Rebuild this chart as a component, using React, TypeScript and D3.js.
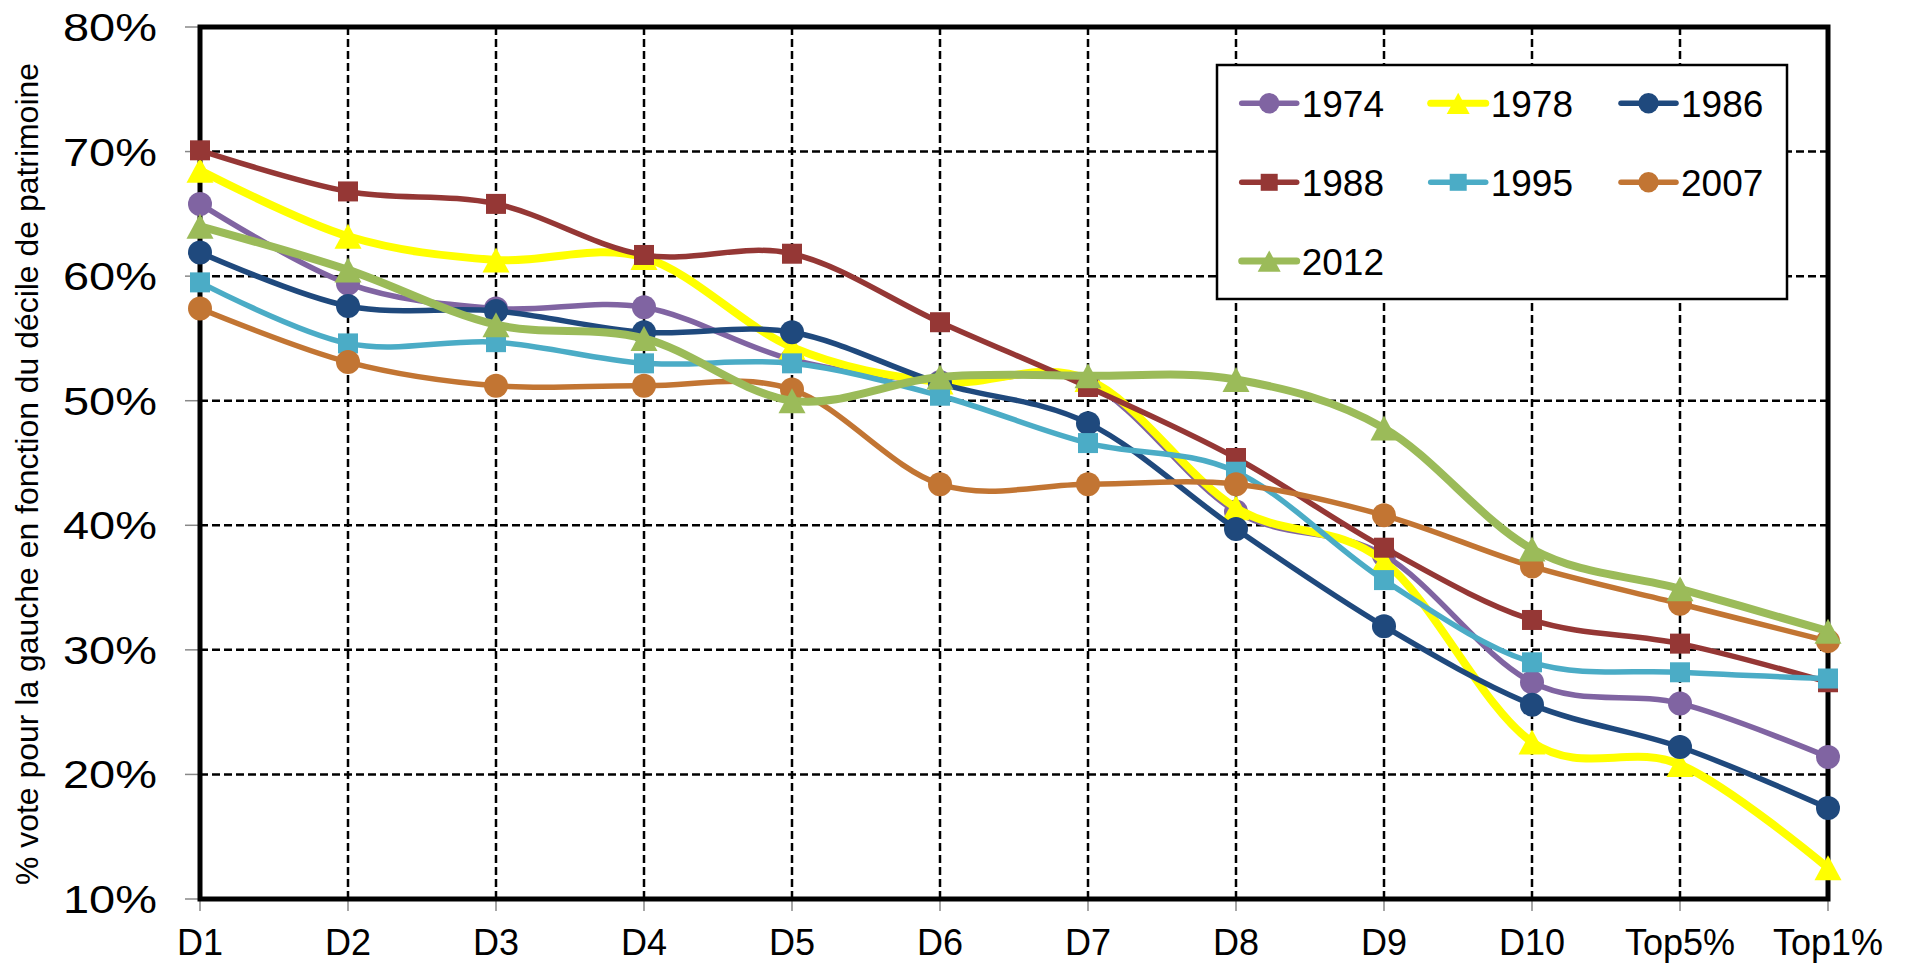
import React from "react";
import * as d3 from "d3";

const categories = ["D1", "D2", "D3", "D4", "D5", "D6", "D7", "D8", "D9", "D10", "Top5%", "Top1%"];
const yTicks = [10, 20, 30, 40, 50, 60, 70, 80];

const v1974 = [65.8, 59.4, 57.4, 57.5, 53.3, 51.5, 51.4, 41.1, 37.6, 27.4, 25.7, 21.4];
const v1978 = [68.5, 63.2, 61.3, 61.5, 54.3, 51.5, 51.7, 41.4, 37.1, 22.6, 20.8, 12.5];
const v1986 = [61.9, 57.6, 57.2, 55.5, 55.5, 51.4, 48.2, 39.7, 31.9, 25.6, 22.2, 17.3];
const v1988 = [70.1, 66.8, 65.8, 61.7, 61.8, 56.3, 51.1, 45.4, 38.2, 32.4, 30.5, 27.4];
const v1995 = [59.5, 54.6, 54.7, 53.0, 53.0, 50.4, 46.6, 44.3, 35.6, 29.0, 28.2, 27.7];
const v2007 = [57.4, 53.1, 51.2, 51.2, 50.9, 43.3, 43.3, 43.3, 40.8, 36.7, 33.7, 30.7];
const v2012 = [64.0, 60.5, 56.1, 55.0, 50.0, 51.9, 52.0, 51.7, 47.8, 38.1, 34.9, 31.5];

const seriesNames = ["1974", "1978", "1986", "1988", "1995", "2007", "2012"];
const seriesValues = [v1974, v1978, v1986, v1988, v1995, v2007, v2012];
const seriesColors = ["#8064A2", "#FFFF00", "#1F497D", "#953735", "#4BACC6", "#C27533", "#9BBB59"];
const seriesMarkers = ["circle", "triangle", "circle", "square", "square", "circle", "triangle"];
const seriesWidths = [5.5, 8, 5.5, 5.5, 5.5, 5.5, 8];

const yTitle = "% vote pour la gauche en fonction du décile de patrimoine";

const FONT = "Arial, 'Liberation Sans', Helvetica, sans-serif";

function Marker({ type, x, y, color, scale = 1 }: { type: string; x: number; y: number; color: string; scale?: number }) {
  if (type === "circle") return <circle cx={x} cy={y} r={12 * scale} fill={color} />;
  if (type === "square") {
    const s = 20 * scale;
    return <rect x={x - s / 2} y={y - s / 2} width={s} height={s} fill={color} />;
  }
  const w = 27 * scale;
  const h = 25 * scale;
  return <path d={`M${x},${y - h / 2}L${x + w / 2},${y + h / 2}L${x - w / 2},${y + h / 2}Z`} fill={color} />;
}

export default function App() {
  const W = 1908;
  const H = 963;
  const left = 200;
  const right = 1828;
  const top = 27;
  const bottom = 899;

  const x = d3.scalePoint<string>().domain(categories).range([left, right]);
  const y = d3.scaleLinear().domain([10, 80]).range([bottom, top]);

  const line = d3
    .line<number>()
    .x((_, i) => x(categories[i]) as number)
    .y((d) => y(d))
    .curve(d3.curveCardinal.tension(0));

  const legendCols = [1241.7, 1430.7, 1621];
  const legendRows = [103.3, 182.3, 261];

  return (
    <svg
      width={W}
      height={H}
      style={{ position: "absolute", left: 0, top: 0, background: "#fff" }}
      fontFamily={FONT}
    >
      <rect x={0} y={0} width={W} height={H} fill="#fff" />
      {/* gridlines */}
      {yTicks
        .filter((t) => t !== 10 && t !== 80)
        .map((t) => (
          <line key={"gy" + t} x1={left} x2={right} y1={y(t)} y2={y(t)} stroke="#000" strokeWidth={2.5} strokeDasharray="8,4" />
        ))}
      {categories.slice(1, -1).map((c) => (
        <line key={"gx" + c} x1={x(c)} x2={x(c)} y1={top} y2={bottom} stroke="#000" strokeWidth={2.5} strokeDasharray="8,4" />
      ))}
      {/* ticks */}
      {yTicks.map((t) => (
        <line key={"ty" + t} x1={185} x2={left} y1={y(t)} y2={y(t)} stroke="#888" strokeWidth={1.5} />
      ))}
      {categories.map((c) => (
        <line key={"tx" + c} x1={x(c)} x2={x(c)} y1={bottom} y2={911} stroke="#888" strokeWidth={1.5} />
      ))}
      {/* frame */}
      <rect x={left} y={top} width={right - left} height={bottom - top} fill="none" stroke="#000" strokeWidth={5} />
      {/* y labels */}
      {yTicks.map((t) => (
        <text
          key={"ly" + t}
          x={157}
          y={y(t) + 14}
          fontSize={39}
          textAnchor="end"
          textLength={94}
          lengthAdjust="spacingAndGlyphs"
        >
          {t}%
        </text>
      ))}
      {/* x labels */}
      {categories.map((c) => (
        <text key={"lx" + c} x={x(c)} y={955} fontSize={36} textAnchor="middle">
          {c}
        </text>
      ))}
      {/* y title */}
      <text
        transform="translate(38,474) rotate(-90)"
        fontSize={32}
        textAnchor="middle"
        textLength={822}
        lengthAdjust="spacingAndGlyphs"
      >
        {yTitle}
      </text>
      {/* legend box */}
      <rect x={1217} y={65} width={570} height={234} fill="#fff" stroke="#000" strokeWidth={2.5} />
      {/* series */}
      {seriesNames.map((name, si) => (
        <g key={name}>
          <path d={line(seriesValues[si]) || ""} fill="none" stroke={seriesColors[si]} strokeWidth={seriesWidths[si]} strokeLinecap="round" strokeLinejoin="round" />
          {seriesValues[si].map((v, i) => (
            <Marker key={i} type={seriesMarkers[si]} x={x(categories[i]) as number} y={y(v)} color={seriesColors[si]} />
          ))}
        </g>
      ))}
      {/* legend entries */}
      {seriesNames.map((name, si) => {
        const cx = legendCols[si % 3];
        const cy = legendRows[Math.floor(si / 3)];
        return (
          <g key={"lg" + name}>
            <line x1={cx} x2={cx + 55} y1={cy} y2={cy} stroke={seriesColors[si]} strokeWidth={Math.min(seriesWidths[si], 7)} strokeLinecap="round" />
            <Marker type={seriesMarkers[si]} x={cx + 27.5} y={cy} color={seriesColors[si]} scale={0.85} />
            <text x={cx + 60} y={cy + 13.5} fontSize={37}>
              {name}
            </text>
          </g>
        );
      })}
    </svg>
  );
}
